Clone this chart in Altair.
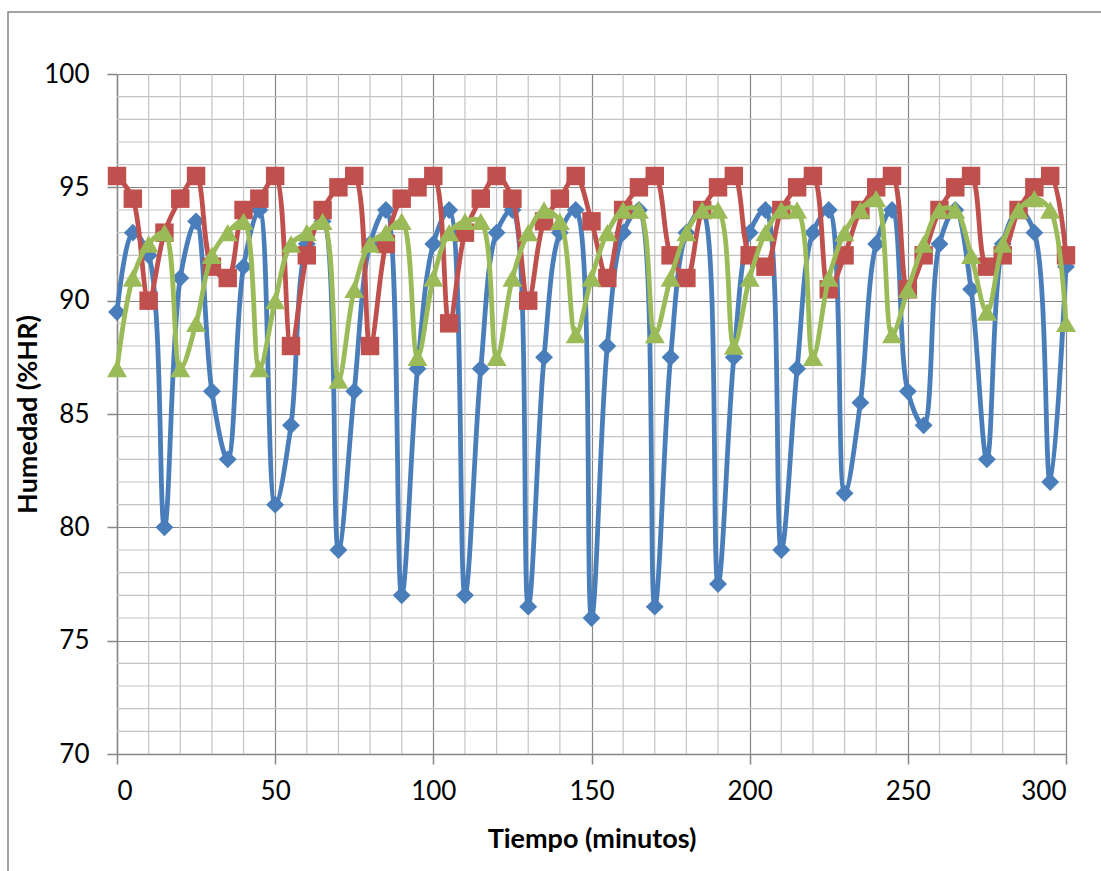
import altair as alt
import pandas as pd

tiempo = list(range(0, 301, 5))

serie_azul = [89.5, 93, 92, 80, 91, 93.5, 86, 83, 91.5, 94, 81, 84.5, 92.5, 93.5, 79, 86,
              92.5, 94, 77, 87, 92.5, 94, 77, 87, 93, 94, 76.5, 87.5, 93, 94, 76, 88,
              93, 94, 76.5, 87.5, 93, 94, 77.5, 87.5, 93, 94, 79, 87, 93, 94, 81.5, 85.5,
              92.5, 94, 86, 84.5, 92.5, 94, 90.5, 83, 92.5, 94, 93, 82, 91.5]
serie_roja = [95.5, 94.5, 90, 93, 94.5, 95.5, 91.5, 91, 94, 94.5, 95.5, 88, 92, 94, 95, 95.5,
              88, 92.5, 94.5, 95, 95.5, 89, 93, 94.5, 95.5, 94.5, 90, 93.5, 94.5, 95.5, 93.5, 91,
              94, 95, 95.5, 92, 91, 94, 95, 95.5, 92, 91.5, 94, 95, 95.5, 90.5, 92, 94,
              95, 95.5, 90.5, 92, 94, 95, 95.5, 91.5, 92, 94, 95, 95.5, 92]
serie_verde = [87, 91, 92.5, 93, 87, 89, 92, 93, 93.5, 87, 90, 92.5, 93, 93.5, 86.5, 90.5,
               92.5, 93, 93.5, 87.5, 91, 93, 93.5, 93.5, 87.5, 91, 93, 94, 93.5, 88.5, 91, 93,
               94, 94, 88.5, 91, 93, 94, 94, 88, 91, 93, 94, 94, 87.5, 91, 93, 94,
               94.5, 88.5, 90.5, 92.5, 94, 94, 92, 89.5, 92.5, 94, 94.5, 94, 89]

series = [
    ("Serie 1", serie_azul, "#4A7EBB", "diamond", 320),
    ("Serie 2", serie_roja, "#C0504D", "square", 340),
    ("Serie 3", serie_verde, "#9BBB59", "triangle-up", 400),
]

y_minor = [v for v in range(70, 101) if v % 5]
x_minor = [v for v in range(0, 301, 10) if v % 50]

FONT = "Lato"
MAJOR = "#878787"
MINOR = "#C4C4C4"

xscale = alt.Scale(domain=[0, 300], nice=False, zero=False)
yscale = alt.Scale(domain=[70, 100], nice=False, zero=False)

xaxis = alt.Axis(values=list(range(0, 301, 50)), grid=True, gridColor=MAJOR, gridWidth=1.2,
                 domainColor=MAJOR, domainWidth=1.5, tickColor=MAJOR, tickSize=10, tickWidth=1.5,
                 labelFont=FONT, labelFontSize=26, labelColor="#000000", labelPadding=14,
                 title="Tiempo (minutos)", titleFont=FONT, titleFontSize=27, titleFontWeight="bold",
                 titleColor="#000000", titlePadding=22)
yaxis = alt.Axis(values=list(range(70, 101, 5)), grid=True, gridColor=MAJOR, gridWidth=1.2,
                 domainColor=MAJOR, domainWidth=1.5, tickColor=MAJOR, tickSize=10, tickWidth=1.5,
                 labelFont=FONT, labelFontSize=26, labelColor="#000000", labelPadding=18,
                 title="Humedad (%HR)", titleFont=FONT, titleFontSize=27, titleFontWeight="bold",
                 titleColor="#000000", titlePadding=1)

base_x = alt.X("t:Q", scale=xscale, axis=xaxis)
base_y = alt.Y("v:Q", scale=yscale, axis=yaxis)

grid_y = alt.Chart(pd.DataFrame({"v": y_minor})).mark_rule(color=MINOR, strokeWidth=1.2).encode(y=base_y)
grid_x = alt.Chart(pd.DataFrame({"t": x_minor})).mark_rule(color=MINOR, strokeWidth=1.2).encode(x=base_x)

layers = [grid_y, grid_x]
for name, vals, color, shape, size in series:
    df = pd.DataFrame({"t": tiempo, "v": vals, "serie": name})
    ln = alt.Chart(df).mark_line(color=color, strokeWidth=4.8, interpolate="catmull-rom").encode(
        x=alt.X("t:Q", scale=xscale, axis=xaxis), y=alt.Y("v:Q", scale=yscale, axis=yaxis))
    pt = alt.Chart(df).mark_point(shape=shape, size=size, filled=True, color=color, opacity=1,
                                  strokeWidth=0).encode(
        x=alt.X("t:Q", scale=xscale, axis=xaxis), y=alt.Y("v:Q", scale=yscale, axis=yaxis))
    layers += [ln, pt]

border = alt.Chart(pd.DataFrame({"a": [0]})).mark_rect(
    fillOpacity=0, stroke=MAJOR, strokeWidth=1.5, clip=False).encode(
    x=alt.value(-109), x2=alt.value(1000), y=alt.value(-62), y2=alt.value(820))
layers.append(border)

chart = alt.layer(*layers).properties(
    width=949, height=680,
    autosize=alt.AutoSizeParams(type="none"),
    padding={"left": 117, "top": 74, "right": 35, "bottom": 117},
    background="white",
).configure_view(stroke=None)

chart.save("out.html", embed_options={"renderer": "svg", "actions": False})
